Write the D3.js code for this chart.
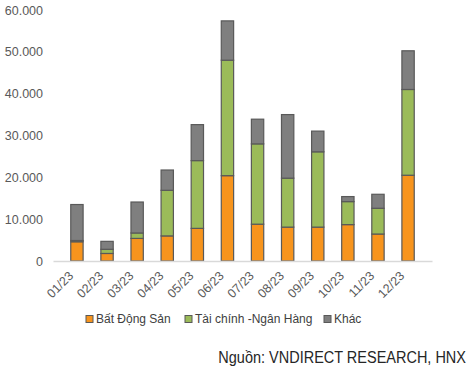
<!DOCTYPE html>
<html>
<head>
<meta charset="utf-8">
<script src="https://cdn.jsdelivr.net/npm/d3@7"></script>
<style>
  body { margin: 0; background: #fff; }
  svg { display: block; font-family: "Liberation Sans", Arial, sans-serif; }
</style>
</head>
<body>
<svg id="chart" width="474" height="368"></svg>
<script>
// months on the x axis
const months = ['01/23', '02/23', '03/23', '04/23', '05/23', '06/23',
  '07/23', '08/23', '09/23', '10/23', '11/23', '12/23'];
// series values (bn VND)
const batDongSan = [4600, 1800, 5400, 6000, 7800, 20400, 8800, 8100, 8100, 8700, 6450, 20500];
const taiChinh = [300, 1000, 1300, 10900, 16200, 27600, 19200, 11700, 18000, 5500, 6150, 20500];
const khac = [8600, 1900, 7400, 4850, 8600, 9400, 5900, 15200, 4950, 1200, 3350, 9250];
const seriesNames = ['Bất Động Sản', 'Tài chính -Ngân Hàng', 'Khác'];
const yTicks = [0, 10000, 20000, 30000, 40000, 50000, 60000];

const colors = ['#F7941D', '#9BBB59', '#7F7F7F'];
const margin = { top: 10, right: 42, bottom: 107, left: 53 };
const width = 474 - margin.left - margin.right;
const height = 368 - margin.top - margin.bottom;

const table = months.map((m, i) => ({
  month: m, s0: batDongSan[i], s1: taiChinh[i], s2: khac[i]
}));
const stack = d3.stack().keys(['s0', 's1', 's2'])(table);

const svg = d3.select('#chart');
const g = svg.append('g').attr('transform', `translate(${margin.left},${margin.top})`);

const x = d3.scaleBand().domain(months).range([0, width]).padding(0.59);
const y = d3.scaleLinear().domain([0, 60000]).range([height, 0]);

// y axis labels only
const fmt = v => d3.format(',')(v).replace(/,/g, '.');
g.append('g')
  .call(d3.axisLeft(y).tickValues(yTicks).tickFormat(fmt).tickSize(0).tickPadding(10))
  .call(s => s.select('.domain').remove())
  .selectAll('text')
  .attr('fill', '#595959')
  .style('font-size', '12.5px')
  .style('font-family', '"Liberation Sans", Arial, sans-serif');

// bars
g.selectAll('.layer')
  .data(stack)
  .enter().append('g')
  .attr('class', 'layer')
  .attr('fill', (d, i) => colors[i])
  .selectAll('rect')
  .data(d => d)
  .enter().append('rect')
  .attr('x', d => x(d.data.month))
  .attr('y', d => y(d[1]))
  .attr('width', x.bandwidth())
  .attr('height', d => y(d[0]) - y(d[1]))
  .attr('stroke', '#595959')
  .attr('stroke-width', 1.2);

// x axis
const xAxis = g.append('g')
  .attr('transform', `translate(0,${height})`)
  .call(d3.axisBottom(x).tickSize(0));
xAxis.select('.domain').attr('stroke', '#D9D9D9').attr('stroke-width', 1.5);
xAxis.selectAll('text')
  .attr('fill', '#595959')
  .style('font-size', '12.5px')
  .style('font-family', '"Liberation Sans", Arial, sans-serif')
  .attr('text-anchor', 'end')
  .attr('x', -13)
  .attr('y', 9)
  .attr('dy', 0)
  .attr('transform', 'rotate(-45)');

// legend
const legendX = [86, 185, 324];
const legend = svg.append('g').attr('transform', 'translate(0,319)');
seriesNames.forEach((name, i) => {
  const item = legend.append('g').attr('transform', `translate(${legendX[i]},0)`);
  item.append('rect')
    .attr('x', 0).attr('y', -3.5).attr('width', 7).attr('height', 7)
    .attr('fill', colors[i]).attr('stroke', '#595959').attr('stroke-width', 1);
  item.append('text')
    .attr('x', 10).attr('y', 0).attr('dy', '0.35em')
    .attr('fill', '#404040')
    .style('font-size', '12px')
    .text(name);
});

// source note (glyphs a bit taller than wide, as in the original)
svg.append('text')
  .attr('transform', 'translate(466,357) scale(1,1.2)')
  .attr('dy', '0.35em')
  .attr('text-anchor', 'end')
  .attr('fill', '#262626')
  .style('font-size', '14.5px')
  .text('Nguồn: VNDIRECT RESEARCH, HNX');
</script>
</body>
</html>
